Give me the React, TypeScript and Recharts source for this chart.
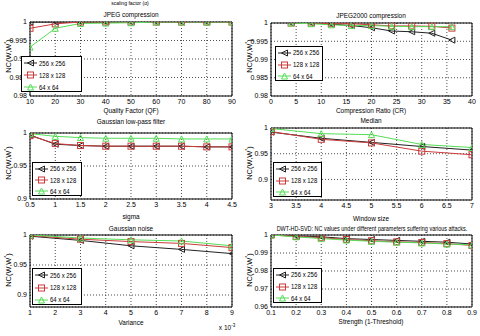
import { LineChart, Line, XAxis, YAxis, CartesianGrid, ReferenceArea } from 'recharts';

const FONT = '"Liberation Sans", Arial, sans-serif';

const sizeLabels = ['256 x 256', '128 x 128', '64 x 64'];
const seriesColors = ['#222222', '#cc3b3b', '#55dd55'];
const seriesMarkers = ['left', 'square', 'up'];

// JPEG compression
const qualityFactors = [10, 20, 30, 40, 50, 60, 70, 80, 90];
const jpeg256 = [1, 1, 1, 1, 1, 1, 1, 1, 1];
const jpeg128 = [0.9983, 0.9995, 1, 1, 1, 1, 1, 1, 1];
const jpeg64 = [0.9932, 0.9983, 0.9996, 0.9997, 0.9998, 1, 1, 1, 1];
const jpegYTicks = [0.98, 0.985, 0.99, 0.995, 1];

// JPEG2000 compression
const compressionRatios = [4, 8, 12, 16, 20, 24, 28, 32, 36];
const j2k256 = [1, 1, 0.9997, 0.9993, 0.9987, 0.9978, 0.9976, 0.9972, 0.9953];
const j2k128 = [1, 1, 0.9998, 0.9998, 0.9995, 0.9992, 0.9992, 0.9991, 0.9986];
const j2k64 = [1, 0.9998, 0.9995, 0.9993, 0.9993, 0.9991, 0.999, 0.999, 0.999];
const crTicks = [0, 5, 10, 15, 20, 25, 30, 35, 40];
const j2kYTicks = [0.98, 0.985, 0.99, 0.995, 1];

// Gaussian low-pass filter
const sigmas = [0.5, 1, 1.5, 2, 2.5, 3, 3.5, 4, 4.5];
const glp256 = [0.997, 0.983, 0.981, 0.98, 0.98, 0.98, 0.98, 0.979, 0.979];
const glp128 = [0.996, 0.984, 0.981, 0.98, 0.98, 0.98, 0.98, 0.979, 0.979];
const glp64 = [0.999, 0.995, 0.993, 0.992, 0.992, 0.992, 0.991, 0.991, 0.991];
const glpYTicks = [0.9, 0.95, 1];

// Median
const windowSizes = [3, 4, 5, 6, 7];
const med256 = [0.992, 0.98, 0.972, 0.964, 0.957];
const med128 = [0.993, 0.978, 0.971, 0.955, 0.948];
const med64 = [0.999, 0.989, 0.987, 0.968, 0.962];
const windowTicks = [3, 3.5, 4, 4.5, 5, 5.5, 6, 6.5, 7];
const medYTicks = [0.9, 0.95, 1];

// Gaussian noise (variance x 10^-3)
const variances = [1, 3, 5, 7, 9];
const noise256 = [0.998, 0.991, 0.982, 0.976, 0.969];
const noise128 = [0.999, 0.993, 0.989, 0.986, 0.979];
const noise64 = [1, 0.995, 0.992, 0.99, 0.982];
const varianceTicks = [1, 2, 3, 4, 5, 6, 7, 8, 9];
const noiseYTicks = [0.9, 0.95, 1];

// DWT-HD-SVD strength
const strengths = [0.1, 0.2, 0.3, 0.4, 0.5, 0.6, 0.7, 0.8, 0.9];
const dwt256 = [1, 0.9995, 0.999, 0.998, 0.9975, 0.997, 0.9965, 0.996, 0.995];
const dwt128 = [1, 0.9992, 0.9985, 0.9975, 0.9968, 0.9962, 0.9958, 0.9952, 0.9942];
const dwt64 = [1, 0.999, 0.998, 0.9972, 0.9965, 0.996, 0.9956, 0.995, 0.9945];
const dwtYTicks = [0.96, 0.97, 0.98, 0.99, 1];

const Marker = ({ cx, cy, kind, color }: any) => {
  if (cx == null || cy == null) return null;
  const r = 3;
  if (kind === 'square')
    return <rect x={cx - r} y={cy - r} width={2 * r} height={2 * r} fill="none" stroke={color} strokeWidth={1} />;
  if (kind === 'left')
    return <polygon points={`${cx - r},${cy} ${cx + r},${cy - r} ${cx + r},${cy + r}`} fill="none" stroke={color} strokeWidth={1} />;
  return <polygon points={`${cx},${cy - r} ${cx + r},${cy + r} ${cx - r},${cy + r}`} fill="none" stroke={color} strokeWidth={1} />;
};

const XTick = ({ x, y, payload }: any) => (
  <text x={x} y={y} dy="0.71em" textAnchor="middle" fontSize={7} fontFamily={FONT} fill="#000">
    {payload.value}
  </text>
);

const YTick = ({ x, y, payload }: any) => (
  <text x={x} y={y} dy="0.355em" textAnchor="end" fontSize={7} fontFamily={FONT} fill="#000">
    {payload.value}
  </text>
);

const Text = ({ x, y, size = 7, sx = 0.92, children }: any) => (
  <div
    style={{
      position: 'absolute',
      left: x,
      top: y,
      transform: `translate(-50%, -50%) scaleX(${sx})`,
      fontSize: size,
      fontFamily: FONT,
      whiteSpace: 'nowrap',
      lineHeight: 1,
      color: '#000',
    }}
  >
    {children}
  </div>
);

const LegendBox = ({ left, top, width, height }: any) => (
  <div
    style={{
      position: 'absolute',
      left,
      top,
      width,
      height,
      border: '1px solid #000',
      background: '#fff',
      boxSizing: 'border-box',
    }}
  >
    {sizeLabels.map((label, i) => (
      <div
        key={label}
        style={{ position: 'absolute', left: 1, top: (height / 3) * i + height / 6 - 5, height: 10, display: 'flex', alignItems: 'center' }}
      >
        <svg width={15} height={10}>
          <line x1={1} y1={5} x2={14} y2={5} stroke={seriesColors[i]} />
          <Marker cx={7.5} cy={5} kind={seriesMarkers[i]} color={seriesColors[i]} />
        </svg>
        <span
          style={{
            fontSize: 6.5,
            fontFamily: FONT,
            marginLeft: 1,
            whiteSpace: 'nowrap',
            display: 'inline-block',
            transform: 'scaleX(0.92)',
            transformOrigin: 'left center',
          }}
        >
          {label}
        </span>
      </div>
    ))}
  </div>
);

const Panel = ({ left, top, w, h, xs, s256, s128, s64, xDomain, xTicks, yDomain, yTicks }: any) => {
  const rows = xs.map((x: number, i: number) => ({ x, a: s256[i], b: s128[i], c: s64[i] }));
  const keys = ['a', 'b', 'c'];
  return (
    <div style={{ position: 'absolute', left: left - 30, top: top - 5 }}>
      <LineChart width={w + 36} height={h + 25} data={rows} margin={{ top: 5, right: 6, bottom: 0, left: 0 }}>
        <CartesianGrid strokeDasharray="1 2" stroke="#222" strokeWidth={0.8} />
        <XAxis
          dataKey="x"
          type="number"
          domain={xDomain}
          ticks={xTicks}
          interval={0}
          allowDataOverflow
          tick={<XTick />}
          tickLine={false}
          axisLine={false}
          tickSize={0}
          tickMargin={3}
          height={20}
        />
        <YAxis
          type="number"
          domain={yDomain}
          ticks={yTicks}
          interval={0}
          allowDataOverflow
          tick={<YTick />}
          tickLine={false}
          axisLine={false}
          tickSize={0}
          tickMargin={3}
          width={30}
        />
        <ReferenceArea x1={xDomain[0]} x2={xDomain[1]} y1={yDomain[0]} y2={yDomain[1]} fill="none" stroke="#000" strokeWidth={1} />
        {keys.map((k, i) => (
          <Line
            key={k}
            dataKey={k}
            stroke={seriesColors[i]}
            strokeWidth={1}
            isAnimationActive={false}
            dot={(p: any) => (
              <g key={`${k}-${p.index}`}>
                <Marker cx={p.cx} cy={p.cy} kind={seriesMarkers[i]} color={seriesColors[i]} />
              </g>
            )}
            activeDot={false}
          />
        ))}
      </LineChart>
    </div>
  );
};

const YLabel = ({ x, y }: any) => (
  <div
    style={{
      position: 'absolute',
      left: x,
      top: y,
      transform: 'translate(-50%, -50%) rotate(-90deg)',
      fontSize: 7.5,
      fontFamily: FONT,
      whiteSpace: 'nowrap',
      lineHeight: 1,
    }}
  >
    NC(W,W<sup style={{ fontSize: 5 }}>*</sup>)
  </div>
);

export default function App() {
  return (
    <div style={{ position: 'absolute', left: 0, top: 0, width: 480, height: 336, background: '#fff', overflow: 'hidden' }}>
      <Panel left={30} top={22} w={202} h={74} xs={qualityFactors} s256={jpeg256} s128={jpeg128} s64={jpeg64}
        xDomain={[10, 90]} xTicks={qualityFactors} yDomain={[0.98, 1]} yTicks={jpegYTicks} />
      <Panel left={271} top={23} w={201} h={73} xs={compressionRatios} s256={j2k256} s128={j2k128} s64={j2k64}
        xDomain={[0, 40]} xTicks={crTicks} yDomain={[0.98, 1]} yTicks={j2kYTicks} />
      <Panel left={30} top={133} w={202} h={66} xs={sigmas} s256={glp256} s128={glp128} s64={glp64}
        xDomain={[0.5, 4.5]} xTicks={sigmas} yDomain={[0.9, 1]} yTicks={glpYTicks} />
      <Panel left={271} top={128} w={201} h={72} xs={windowSizes} s256={med256} s128={med128} s64={med64}
        xDomain={[3, 7]} xTicks={windowTicks} yDomain={[0.86, 1]} yTicks={medYTicks} />
      <Panel left={30} top={235} w={202} h={72} xs={variances} s256={noise256} s128={noise128} s64={noise64}
        xDomain={[1, 9]} xTicks={varianceTicks} yDomain={[0.88, 1]} yTicks={noiseYTicks} />
      <Panel left={271} top={235} w={201} h={72} xs={strengths} s256={dwt256} s128={dwt128} s64={dwt64}
        xDomain={[0.1, 0.9]} xTicks={strengths} yDomain={[0.96, 1]} yTicks={dwtYTicks} />

      <LegendBox left={21} top={56} width={61} height={36} />
      <LegendBox left={275} top={46} width={48} height={35} />
      <LegendBox left={32} top={162} width={50} height={34} />
      <LegendBox left={273} top={162} width={49} height={35} />
      <LegendBox left={32} top={268} width={50} height={37} />
      <LegendBox left={273} top={268} width={49} height={35} />

      <YLabel x={8} y={56} />
      <YLabel x={249} y={56} />
      <YLabel x={8} y={163} />
      <YLabel x={249} y={163} />
      <YLabel x={8} y={270} />
      <YLabel x={249} y={270} />

      <Text x={130} y={4} size={5.5}>scaling factor (α)</Text>
      <Text x={131} y={14}>JPEG compression</Text>
      <Text x={371} y={15}>JPEG2000 compression</Text>
      <Text x={131} y={110}>Quality Factor (QF)</Text>
      <Text x={371} y={110}>Compression Ratio (CR)</Text>
      <Text x={131} y={121}>Gaussian low-pass filter</Text>
      <Text x={371} y={120}>Median</Text>
      <Text x={131} y={216}>sigma</Text>
      <Text x={371} y={218}>Window size</Text>
      <Text x={131} y={228}>Gaussian noise</Text>
      <Text x={372} y={229} size={6.5} sx={0.84}>DWT-HD-SVD: NC values under different parameters suffering various attacks.</Text>
      <Text x={131} y={322}>Variance</Text>
      <Text x={371} y={321}>Strength (1-Threshold)</Text>
      <Text x={227} y={328} size={6.5} sx={1}>
        x 10<sup style={{ fontSize: 4.5 }}>-3</sup>
      </Text>
    </div>
  );
}
